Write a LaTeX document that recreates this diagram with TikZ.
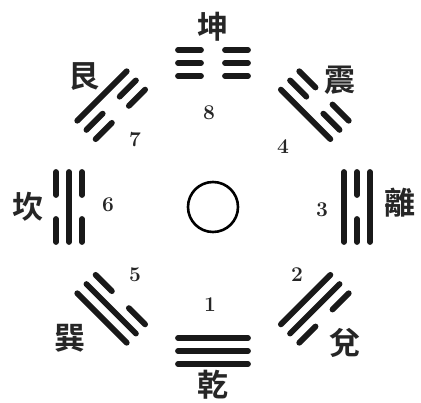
\documentclass[tikz,border=0pt]{standalone}
\usepackage{fontspec}
\newfontfamily\cjkfont{Noto Sans CJK TC}[BoldFont={* Bold}]
\usetikzlibrary{calc}

% one line of a trigram: #1 = distance from centre, #2 = 1 solid / 0 broken
\newcommand{\yao}[2]{%
  \ifnum#2=1
    \draw[yaoline] (-35,#1) -- (35,#1);
  \else
    \draw[yaoline] (-35,#1) -- (-12,#1);
    \draw[yaoline] (12,#1) -- (35,#1);
  \fi}

\begin{document}
\begin{tikzpicture}[
  x=1pt, y=1pt,
  yaoline/.style={line width=5.8pt, line cap=round, black!90},
  gua/.style={font=\cjkfont\bfseries\fontsize{31}{31}\selectfont, inner sep=0pt, black!85},
  num/.style={font=\bfseries\fontsize{21}{21}\selectfont, inner sep=0pt, black!85}
]
\useasboundingbox (-213,-196) rectangle (208,207);

% centre
\node[draw, circle, line width=2.6pt, minimum size=50pt, inner sep=0pt] (taiji) at (0,0) {};

% trigrams, bottom line nearest the centre
\foreach \ang/\a/\b/\c in {90/0/0/0, 45/1/0/0, 0/1/0/1, -45/1/1/0,
                           -90/1/1/1, -135/0/1/1, 180/0/1/0, 135/0/0/1}{
  \begin{scope}[rotate=\ang-90]
    \yao{131}{\a}
    \yao{144}{\b}
    \yao{157}{\c}
  \end{scope}
}

% names
\node[gua] (kun)  at (0,180)     {坤};
\node[gua] (zhen) at (127,127)   {震};
\node[gua] (li)   at (187,4)     {離};
\node[gua] (dui)  at (132,-136)  {兌};
\node[gua] (qian) at (0,-178)    {乾};
\node[gua] (xun)  at (-143,-131) {巽};
\node[gua] (kan)  at (-185,0)    {坎};
\node[gua] (gen)  at (-129,130)  {艮};

% numbers
\node[num] (n8) at (-4,94)   {8};
\node[num] (n4) at (70,60)   {4};
\node[num] (n3) at (109,-3)  {3};
\node[num] (n2) at (84,-68)  {2};
\node[num] (n1) at (-3,-98)  {1};
\node[num] (n5) at (-78,-68) {5};
\node[num] (n6) at (-105,2)  {6};
\node[num] (n7) at (-78,67)  {7};
\end{tikzpicture}
\end{document}
